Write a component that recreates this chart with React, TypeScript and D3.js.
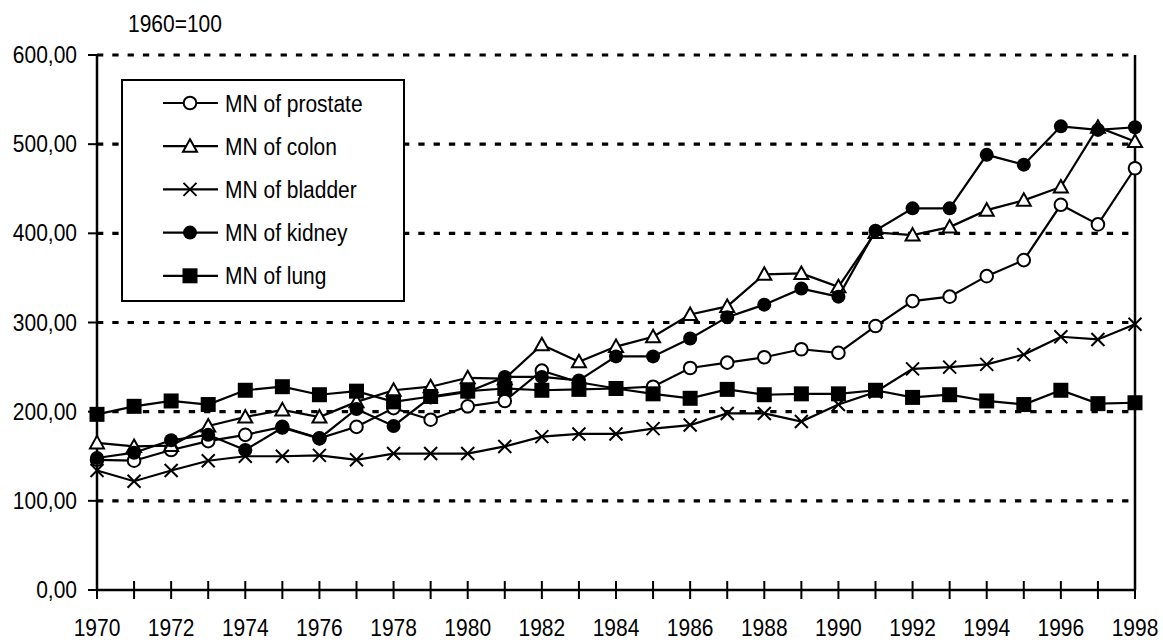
import React from "react";
import * as d3 from "d3";

const years: number[] = d3.range(1970, 1999);
const yTicks: number[] = [0, 100, 200, 300, 400, 500, 600];
const xLabelYears: number[] = d3.range(1970, 1999, 2);

const prostate = [146, 145, 157, 167, 174, 183, 170, 183, 204, 191, 206, 212, 246, 233, 226, 228, 249, 255, 261, 270, 266, 296, 324, 329, 352, 370, 432, 410, 473];
const colon = [165, 161, 162, 184, 194, 202, 194, 211, 224, 228, 238, 237, 275, 256, 273, 284, 309, 318, 354, 355, 340, 401, 398, 407, 426, 437, 452, 519, 503];
const bladder = [134, 122, 134, 145, 150, 150, 151, 146, 153, 153, 153, 161, 172, 175, 175, 181, 185, 198, 198, 189, 208, 222, 248, 250, 253, 264, 284, 281, 298];
const kidney = [148, 154, 168, 174, 157, 182, 170, 203, 184, 216, 222, 239, 239, 235, 262, 262, 282, 306, 320, 338, 329, 403, 428, 428, 488, 477, 520, 516, 519];
const lung = [197, 206, 212, 208, 224, 228, 219, 223, 211, 217, 223, 226, 224, 225, 226, 220, 215, 225, 219, 220, 220, 224, 216, 219, 212, 208, 224, 209, 210];

const seriesNames = ["MN of prostate", "MN of colon", "MN of bladder", "MN of kidney", "MN of lung"];
const seriesMarkers = ["circleOpen", "triangle", "cross", "circle", "square"];
const seriesValues = [prostate, colon, bladder, kidney, lung];

const FONT = "'Liberation Sans', Arial, sans-serif";
const L = 97, R = 1135, T = 55, B = 590;
const x = d3.scaleLinear().domain([1970, 1998]).range([L, R]);
const y = d3.scaleLinear().domain([0, 600]).range([B, T]);

function Marker({ kind, cx, cy }: { kind: string; cx: number; cy: number }) {
  if (kind === "circleOpen") return <circle cx={cx} cy={cy} r={6.3} fill="#fff" stroke="#000" strokeWidth={2} />;
  if (kind === "circle") return <circle cx={cx} cy={cy} r={7} fill="#000" />;
  if (kind === "square") return <rect x={cx - 7.5} y={cy - 7.5} width={15} height={15} fill="#000" />;
  if (kind === "triangle") {
    const p = `M${cx},${cy - 7} L${cx + 7},${cy + 5.5} L${cx - 7},${cy + 5.5} Z`;
    return <path d={p} fill="#fff" stroke="#000" strokeWidth={2} strokeLinejoin="miter" />;
  }
  const s = 6.5;
  return (
    <path d={`M${cx - s},${cy - s} L${cx + s},${cy + s} M${cx - s},${cy + s} L${cx + s},${cy - s}`} stroke="#000" strokeWidth={2} />
  );
}

function T2({ x: tx, y: ty, anchor, children }: { x: number; y: number; anchor?: string; children: React.ReactNode }) {
  return (
    <text transform={`translate(${tx},${ty}) scale(1,1.15)`} textAnchor={anchor || "start"} fontFamily={FONT} fontSize={21} fill="#000">
      {children}
    </text>
  );
}

export default function App() {
  const line = d3.line<number>().x((_, i) => x(years[i])).y((v) => y(v));
  return (
    <svg width={1163} height={640} style={{ position: "absolute", left: 0, top: 0, background: "#fff" }}>
      <rect width={1163} height={640} fill="#fff" />
      {/* gridlines */}
      {yTicks.filter((t) => t > 0).map((t) => (
        <line key={t} x1={L} x2={R} y1={y(t)} y2={y(t)} stroke="#000" strokeWidth={3.2} strokeDasharray="6.3,9" />
      ))}
      {/* axes */}
      <line x1={L} x2={L} y1={T} y2={B + 1} stroke="#000" strokeWidth={2.5} />
      <line x1={R} x2={R} y1={T} y2={B} stroke="#000" strokeWidth={2.5} />
      <line x1={L} x2={R} y1={B} y2={B} stroke="#000" strokeWidth={2.5} />
      {yTicks.map((t) => (
        <line key={t} x1={88} x2={L} y1={y(t)} y2={y(t)} stroke="#000" strokeWidth={2} />
      ))}
      {years.map((yr) => (
        <line key={yr} x1={x(yr)} x2={x(yr)} y1={B - 9} y2={B + 9} stroke="#000" strokeWidth={2} />
      ))}
      {yTicks.map((t) => (
        <T2 key={t} x={77} y={y(t) + 8} anchor="end">{d3.format(".2f")(t).replace(".", ",")}</T2>
      ))}
      {xLabelYears.map((yr) => (
        <T2 key={yr} x={x(yr)} y={636} anchor="middle">{yr}</T2>
      ))}
      <T2 x={128} y={32}>1960=100</T2>
      {/* series */}
      {seriesValues.map((vals, si) => (
        <g key={si}>
          <path d={line(vals) || ""} fill="none" stroke="#000" strokeWidth={2.2} />
          {vals.map((v, i) => (
            <Marker key={i} kind={seriesMarkers[si]} cx={x(years[i])} cy={y(v)} />
          ))}
        </g>
      ))}
      {/* legend */}
      <rect x={122} y={80} width={282} height={221} fill="#fff" stroke="#000" strokeWidth={2} />
      {seriesNames.map((name, i) => {
        const cy = 103 + i * 43.2;
        return (
          <g key={name}>
            <line x1={163} x2={218} y1={cy} y2={cy} stroke="#000" strokeWidth={2.2} />
            <Marker kind={seriesMarkers[i]} cx={190} cy={cy} />
            <T2 x={225} y={cy + 8.5}>{name}</T2>
          </g>
        );
      })}
    </svg>
  );
}
